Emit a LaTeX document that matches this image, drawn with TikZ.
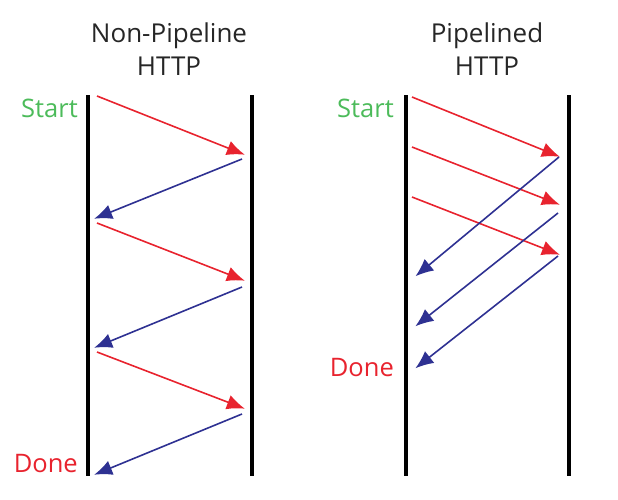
\documentclass[tikz,border=0pt]{standalone}
\usepackage{fontspec}
\setmainfont{Open Sans}
\usetikzlibrary{arrows.meta}
\definecolor{reqred}{HTML}{E8232E}
\definecolor{resblue}{HTML}{2E3192}
\definecolor{startgreen}{HTML}{4CBB5A}
\tikzset{
  wire/.style={line width=3.4pt, black},
  req/.style={reqred, line width=1.6pt, -{Latex[length=18pt,width=15pt]}, shorten >=-2pt},
  res/.style={resblue, line width=1.6pt, -{Latex[length=18pt,width=15pt]}, shorten >=-2pt},
  title/.style={font=\fontsize{26}{33}\selectfont, text=black!85, inner sep=0pt, anchor=base},
  lbl/.style={font=\fontsize{25.5}{28}\selectfont, inner sep=0pt, anchor=base east},
}
\begin{document}
\begin{tikzpicture}[x=1pt,y=-1pt]
\useasboundingbox (0,0) rectangle (618,499);
% titles
\node[title] (t1a) at (169,42) {Non-Pipeline};
\node[title] (t1b) at (169,75) {HTTP};
\node[title] (t2a) at (487,42) {Pipelined};
\node[title] (t2b) at (487,75) {HTTP};
% timelines
\coordinate (L1t) at (88,95);  \coordinate (L1b) at (88,476);
\coordinate (R1t) at (252,95); \coordinate (R1b) at (252,476);
\coordinate (L2t) at (406,95); \coordinate (L2b) at (406,476);
\coordinate (R2t) at (569,95); \coordinate (R2b) at (569,476);
\draw[wire] (L1t) -- (L1b);
\draw[wire] (R1t) -- (R1b);
\draw[wire] (L2t) -- (L2b);
\draw[wire] (R2t) -- (R2b);
% labels
\node[lbl, text=startgreen] (s1) at (78,117) {Start};
\node[lbl, text=reqred] (d1) at (78,472) {Done};
\node[lbl, text=startgreen] (s2) at (394,117) {Start};
\node[lbl, text=reqred] (d2) at (394,376) {Done};
% non-pipelined
\coordinate (a1) at (97,96);   \coordinate (a2) at (243,154);
\coordinate (a3) at (242,159); \coordinate (a4) at (96,218);
\coordinate (a5) at (97,223);  \coordinate (a6) at (243,280);
\coordinate (a7) at (242,287); \coordinate (a8) at (96,347);
\coordinate (a9) at (97,352);  \coordinate (a10) at (243,408);
\coordinate (a11) at (242,414);\coordinate (a12) at (96,474);
\draw[req] (a1) -- (a2);
\draw[res] (a3) -- (a4);
\draw[req] (a5) -- (a6);
\draw[res] (a7) -- (a8);
\draw[req] (a9) -- (a10);
\draw[res] (a11) -- (a12);
% pipelined
\coordinate (p1) at (412,97);  \coordinate (q1) at (558,156);
\coordinate (p2) at (412,147); \coordinate (q2) at (558,204);
\coordinate (p3) at (412,197); \coordinate (q3) at (558,254);
\coordinate (b1) at (559,157); \coordinate (c1) at (417,275);
\coordinate (b2) at (558,213); \coordinate (c2) at (417,325);
\coordinate (b3) at (558,256); \coordinate (c3) at (417,367);
\draw[req] (p1) -- (q1);
\draw[req] (p2) -- (q2);
\draw[req] (p3) -- (q3);
\draw[res] (b1) -- (c1);
\draw[res] (b2) -- (c2);
\draw[res] (b3) -- (c3);
\end{tikzpicture}
\end{document}
